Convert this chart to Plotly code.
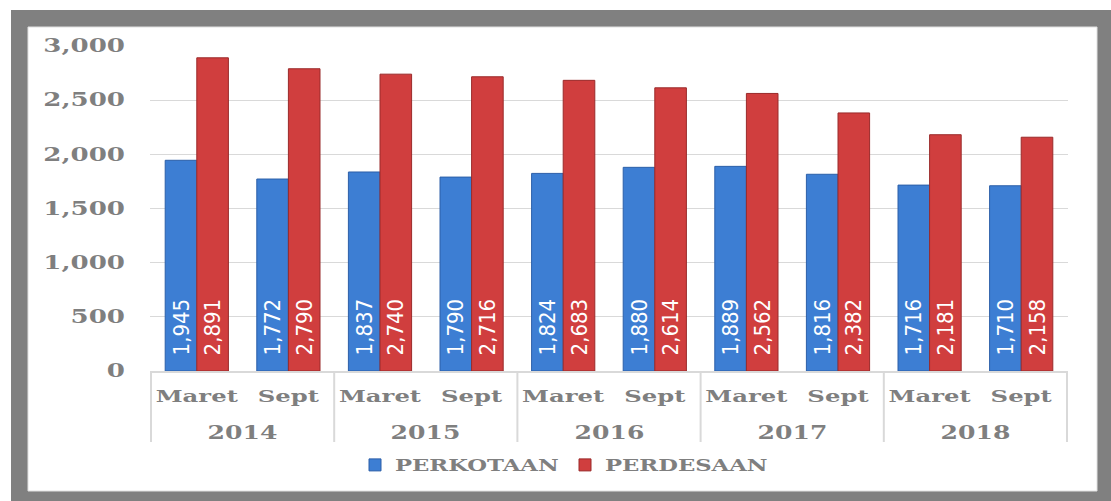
import plotly.graph_objects as go

years = ["2014", "2014", "2015", "2015", "2016", "2016", "2017", "2017", "2018", "2018"]
periods = ["Maret", "Sept"] * 5
perkotaan = [1945, 1772, 1837, 1790, 1824, 1880, 1889, 1816, 1716, 1710]
perdesaan = [2891, 2790, 2740, 2716, 2683, 2614, 2562, 2382, 2181, 2158]
series_names = ["PERKOTAAN", "PERDESAAN"]
y_ticks = [0, 500, 1000, 1500, 2000, 2500, 3000]

GRAY = "#7f7f7f"
SERIF = "DejaVu Serif"
NARROW = "Liberation Sans Narrow, DejaVu Sans Condensed, Arial Narrow, sans-serif"

cats = [f"{p} {y}" for p, y in zip(periods, years)]

fig = go.Figure()
for name, vals, col, edge in [
    (series_names[0], perkotaan, "#3d7ed3", "#2c5fa8"),
    (series_names[1], perdesaan, "#d03e3e", "#9a2a2a"),
]:
    fig.add_trace(go.Bar(
        name=name, x=cats, y=vals,
        marker=dict(color=col, line=dict(color=edge, width=1)),
        texttemplate="\u00a0\u00a0%{y:,}", textposition="inside", insidetextanchor="start",
        textangle=-90, textfont=dict(family=NARROW, size=22, color="white"),
    ))

# frame (decoration): plot area spans x 150..1068 px, y 46..371 px
def px_x(p):
    return (p - 150) / 918.0

def px_y(p):
    return (371 - p) / 325.0

fig.add_shape(type="rect", xref="paper", yref="paper", layer="below",
              x0=px_x(11), x1=px_x(1111), y0=px_y(10), y1=px_y(501),
              fillcolor="#808080", line=dict(width=0))
fig.add_shape(type="rect", xref="paper", yref="paper", layer="below",
              x0=px_x(28), x1=px_x(1097), y0=px_y(27), y1=px_y(491),
              fillcolor="white", line=dict(color="#e0e0e0", width=1))

# year group labels and dividers, derived from the category list
groups = []
for i, y in enumerate(years):
    if groups and groups[-1][0] == y:
        groups[-1][2] = i
    else:
        groups.append([y, i, i])
for y, i0, i1 in groups:
    fig.add_annotation(x=(i0 + i1) / 2, xref="x", y=px_y(432), yref="paper",
                       text=y, showarrow=False, yanchor="middle",
                       font=dict(family=SERIF, size=19, color=GRAY, weight="bold"))
bounds = [g[1] - 0.5 for g in groups] + [groups[-1][2] + 0.5]
for b in bounds:
    fig.add_shape(type="line", xref="x", yref="paper", x0=b, x1=b,
                  y0=0, y1=px_y(442), line=dict(color="#d9d9d9", width=2))

fig.update_layout(
    width=1111, height=501,
    margin=dict(l=150, r=43, t=46, b=130),
    paper_bgcolor="white", plot_bgcolor="rgba(0,0,0,0)",
    barmode="group", bargap=0.31, bargroupgap=0,
    uniformtext=dict(minsize=22, mode="show"),
    showlegend=True,
    legend=dict(orientation="h", x=px_x(355), xanchor="left", y=px_y(465), yanchor="middle",
                entrywidth=165, itemwidth=30,
                font=dict(family=SERIF, size=16, color=GRAY, weight="bold"),
                bgcolor="rgba(0,0,0,0)"),
    font=dict(family=SERIF, color=GRAY),
)
fig.update_yaxes(range=[0, 3000], tickvals=y_ticks, tickformat=",", automargin=False,
                 gridcolor="#d9d9d9", gridwidth=1, zeroline=False, showline=False,
                 ticklabelstandoff=24,
                 tickfont=dict(family=SERIF, size=18, color=GRAY, weight="bold"))
fig.update_xaxes(type="category", tickvals=cats, ticktext=periods, automargin=False,
                 showline=True, linecolor="#d9d9d9", linewidth=2, ticks="",
                 ticklabelstandoff=10,
                 tickfont=dict(family=SERIF, size=16, color=GRAY, weight="bold"))

# remove the page margin, and horizontally widen axis / legend texts to mimic the stretched lettering
post = """
(function(){
  document.body.style.margin = '0';
  document.body.style.padding = '0';
  var gd = document.getElementById('{plot_id}');
  function widen(sel, sx){
    gd.querySelectorAll(sel).forEach(function(t){
      var tr = t.getAttribute('transform') || '';
      if (tr.indexOf('scale(') >= 0) return;
      var x = parseFloat(t.getAttribute('x')) || 0, y = parseFloat(t.getAttribute('y')) || 0;
      t.setAttribute('transform', tr + ' translate(' + x + ',' + y + ') scale(' + sx + ',1) translate(' + (-x) + ',' + (-y) + ')');
    });
  }
  function run(){
    widen('.ytick text', 1.45);
    widen('.xtick text', 1.52);
    widen('.legendtext', 1.42);
    widen('.annotation-text', 1.32);
  }
  run();
  if (gd.on) gd.on('plotly_afterplot', run);
  setTimeout(run, 50);
})();
"""

fig.write_html("out.html", post_script=post, config={"displayModeBar": False})
